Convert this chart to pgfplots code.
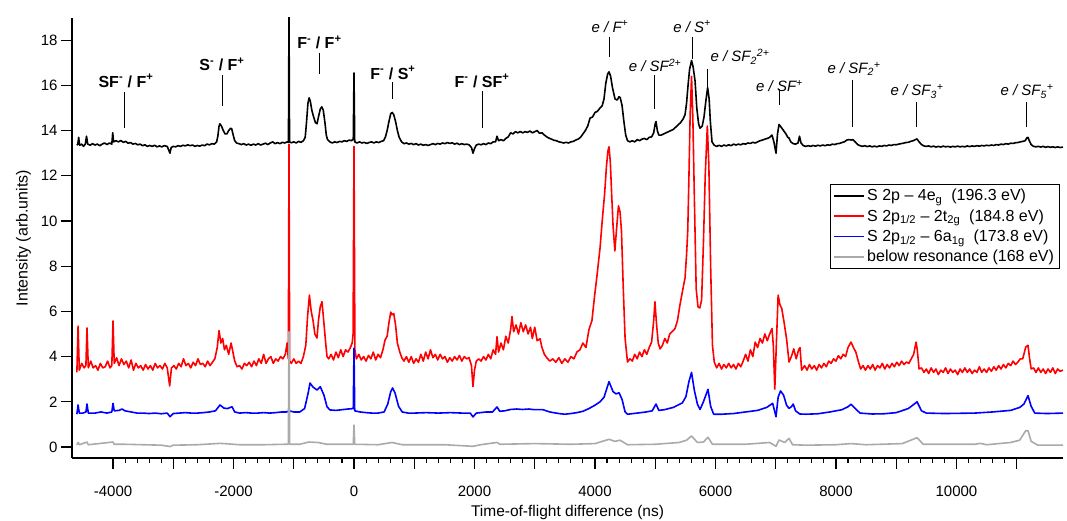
\documentclass[border=0pt]{standalone}
\usepackage{pgfplots}
\pgfplotsset{compat=1.18}
\usepackage{fontspec}
\setmainfont{Liberation Sans}
\definecolor{grayline}{RGB}{170,170,170}
\begin{document}
\begin{tikzpicture}
\begin{axis}[
  scale only axis, width=991pt, height=440pt,
  xmin=-4681, xmax=11769, ymin=-0.487, ymax=18.98,
  scaled x ticks=false, scaled y ticks=false,
  axis lines=left, axis line style={-, line width=1.1pt},
  tick align=outside, tick style={black, line width=1.1pt},
  major tick length=11pt, minor tick length=5pt,
  xtick={-4000,-3000,...,11000},
  xticklabels={-4000,,-2000,,0,,2000,,4000,,6000,,8000,,10000,},
  minor x tick num=4,
  ytick={0,2,...,18},
  yticklabels={0,2,4,6,8,10,12,14,16,18},
  tick label style={font=\fontsize{15}{18}\selectfont},
  xticklabel style={yshift=-13pt},
  xlabel={Time-of-flight difference (ns)},
  ylabel={Intensity (arb.units)},
  xlabel style={font=\fontsize{15.5}{18}\selectfont, yshift=-2pt},
  ylabel style={font=\fontsize{16}{19}\selectfont, yshift=3pt},
  clip mode=individual,
  legend cell align=left,
  legend image code/.code={\draw[#1] (0pt,0pt) -- (30pt,0pt);},
  legend style={at={(0.765,0.623)}, anchor=north west, draw=black, line width=1pt,
    font=\fontsize{16}{19}\selectfont, inner xsep=3pt, inner ysep=3pt, row sep=3.2pt},
  every axis plot/.append style={line join=round},
]
\addplot[black, line width=1.6pt] coordinates {
(-4600,13.35)(-4585,13.4)(-4570,13.7)(-4555,13.35)(-4520,13.4)(-4490,13.3)(-4460,13.4)(-4440,13.75)(-4420,13.4)(-4380,13.35)(-4340,13.42)(-4300,13.36)(-4260,13.4)(-4220,13.33)(-4180,13.4)(-4140,13.45)(-4100,13.38)(-4060,13.45)(-4020,13.4)(-4005,13.9)(-3990,13.5)(-3950,13.55)(-3910,13.5)(-3870,13.56)(-3830,13.48)(-3790,13.52)(-3750,13.44)(-3710,13.47)(-3670,13.4)(-3630,13.43)(-3590,13.37)(-3550,13.4)(-3510,13.33)(-3470,13.37)(-3430,13.3)(-3390,13.34)(-3350,13.3)(-3310,13.35)(-3270,13.28)(-3230,13.32)(-3190,13.28)(-3150,13.33)(-3100,13.3)(-3070,13.1)(-3055,13.0)(-3035,13.25)(-3000,13.3)(-2960,13.28)(-2920,13.33)(-2880,13.3)(-2840,13.35)(-2800,13.32)(-2760,13.37)(-2720,13.33)(-2680,13.36)(-2640,13.3)(-2600,13.34)(-2560,13.31)(-2520,13.36)(-2480,13.33)(-2440,13.4)(-2400,13.37)(-2360,13.42)(-2320,13.4)(-2280,13.5)(-2260,13.75)(-2240,14.2)(-2225,14.3)(-2200,14.2)(-2170,14.0)(-2140,13.85)(-2110,13.85)(-2080,14.0)(-2050,14.1)(-2030,14.08)(-2005,13.8)(-1980,13.55)(-1950,13.45)(-1910,13.42)(-1870,13.38)(-1830,13.42)(-1790,13.36)(-1750,13.4)(-1710,13.35)(-1670,13.4)(-1630,13.36)(-1590,13.42)(-1550,13.36)(-1510,13.4)(-1470,13.44)(-1430,13.38)(-1390,13.45)(-1350,13.5)(-1310,13.42)(-1270,13.47)(-1230,13.42)(-1190,13.48)(-1150,13.45)(-1110,13.5)(-1088,13.48)(-1079,19.5)(-1070,13.5)(-1040,13.46)(-1000,13.5)(-960,13.45)(-920,13.52)(-880,13.48)(-840,13.55)(-810,13.7)(-790,14.3)(-765,15.2)(-745,15.45)(-725,15.3)(-700,14.9)(-670,14.6)(-640,14.35)(-614,14.3)(-590,14.6)(-560,14.95)(-535,15.05)(-510,14.9)(-480,14.3)(-460,13.8)(-440,13.6)(-400,13.5)(-360,13.45)(-320,13.5)(-280,13.47)(-240,13.52)(-200,13.5)(-160,13.55)(-120,13.52)(-80,13.58)(-40,13.55)(-12,13.62)(0,16.55)(12,13.5)(50,13.45)(90,13.5)(130,13.45)(170,13.48)(210,13.43)(250,13.47)(290,13.5)(330,13.45)(370,13.5)(410,13.47)(450,13.52)(490,13.55)(520,13.7)(550,14.0)(580,14.4)(610,14.75)(635,14.8)(660,14.7)(690,14.4)(720,14.0)(750,13.7)(790,13.5)(830,13.42)(870,13.45)(910,13.4)(950,13.43)(990,13.38)(1030,13.42)(1070,13.36)(1110,13.4)(1150,13.35)(1190,13.38)(1230,13.34)(1270,13.38)(1310,13.42)(1350,13.38)(1390,13.43)(1430,13.4)(1470,13.45)(1510,13.42)(1550,13.47)(1590,13.43)(1630,13.46)(1670,13.4)(1710,13.44)(1750,13.38)(1790,13.42)(1830,13.38)(1870,13.4)(1910,13.37)(1950,13.25)(1975,13.0)(2000,13.2)(2030,13.36)(2070,13.4)(2110,13.37)(2150,13.42)(2190,13.38)(2230,13.45)(2270,13.42)(2310,13.5)(2350,13.5)(2374,13.75)(2400,13.55)(2440,13.6)(2480,13.55)(2520,13.65)(2560,13.72)(2600,13.9)(2640,13.85)(2680,13.95)(2720,13.9)(2760,13.96)(2800,13.9)(2840,13.95)(2880,13.92)(2920,13.98)(2960,13.9)(3000,13.95)(3040,14.0)(3080,13.88)(3120,13.9)(3160,13.8)(3200,13.72)(3240,13.66)(3280,13.62)(3320,13.57)(3360,13.55)(3400,13.5)(3440,13.48)(3480,13.45)(3520,13.48)(3560,13.45)(3600,13.5)(3640,13.52)(3680,13.58)(3720,13.62)(3760,13.7)(3800,13.85)(3840,14.0)(3880,14.2)(3918,14.55)(3960,14.6)(4000,14.8)(4040,14.85)(4084,15.0)(4120,15.1)(4150,15.4)(4180,16.1)(4210,16.5)(4233,16.6)(4260,16.4)(4290,15.9)(4333,15.4)(4370,15.35)(4400,15.5)(4420,15.45)(4450,15.1)(4480,14.4)(4510,13.8)(4540,13.55)(4580,13.5)(4620,13.55)(4660,13.5)(4700,13.6)(4740,13.55)(4780,13.62)(4820,13.65)(4860,13.6)(4900,13.7)(4940,13.72)(4975,13.9)(5000,14.3)(5013,14.4)(5035,14.0)(5060,13.8)(5100,13.8)(5140,13.85)(5180,13.9)(5220,13.95)(5260,14.0)(5300,14.05)(5340,14.15)(5380,14.25)(5420,14.35)(5460,14.5)(5495,14.7)(5520,15.2)(5545,16.0)(5570,16.7)(5603,17.1)(5630,16.8)(5661,16.2)(5690,15.0)(5720,14.3)(5744,14.1)(5780,14.2)(5810,14.6)(5840,15.3)(5870,15.9)(5895,15.4)(5915,14.4)(5943,13.5)(5980,13.35)(6020,13.3)(6060,13.35)(6100,13.3)(6140,13.36)(6180,13.32)(6220,13.37)(6260,13.33)(6300,13.4)(6340,13.36)(6380,13.4)(6420,13.37)(6460,13.42)(6500,13.4)(6540,13.45)(6580,13.43)(6620,13.48)(6660,13.45)(6700,13.5)(6740,13.55)(6780,13.58)(6820,13.62)(6860,13.65)(6900,13.7)(6939,13.8)(6970,13.5)(7005,13.0)(7030,13.85)(7055,14.27)(7090,14.15)(7130,14.0)(7170,13.85)(7200,13.7)(7221,13.67)(7250,13.5)(7290,13.42)(7330,13.4)(7370,13.45)(7395,13.75)(7420,13.45)(7460,13.33)(7500,13.3)(7540,13.33)(7580,13.3)(7620,13.34)(7660,13.31)(7700,13.35)(7740,13.32)(7780,13.36)(7820,13.33)(7860,13.37)(7900,13.35)(7940,13.4)(7980,13.38)(8020,13.42)(8060,13.43)(8100,13.47)(8140,13.5)(8180,13.58)(8220,13.6)(8250,13.58)(8280,13.6)(8320,13.5)(8360,13.38)(8400,13.33)(8440,13.3)(8480,13.33)(8520,13.29)(8560,13.32)(8600,13.28)(8640,13.31)(8680,13.28)(8720,13.32)(8760,13.3)(8800,13.34)(8840,13.32)(8880,13.36)(8920,13.34)(8960,13.38)(9000,13.37)(9040,13.4)(9080,13.42)(9120,13.44)(9160,13.47)(9200,13.48)(9240,13.52)(9280,13.55)(9320,13.6)(9346,13.63)(9380,13.5)(9420,13.38)(9460,13.32)(9500,13.3)(9540,13.32)(9580,13.28)(9620,13.31)(9660,13.27)(9700,13.3)(9740,13.27)(9780,13.31)(9820,13.28)(9860,13.3)(9900,13.27)(9940,13.3)(9980,13.28)(10020,13.31)(10060,13.28)(10100,13.3)(10140,13.28)(10180,13.32)(10220,13.29)(10260,13.32)(10300,13.3)(10340,13.33)(10380,13.31)(10420,13.34)(10460,13.32)(10500,13.35)(10540,13.33)(10580,13.36)(10620,13.34)(10660,13.38)(10700,13.36)(10740,13.4)(10780,13.38)(10820,13.42)(10860,13.4)(10900,13.44)(10940,13.43)(10980,13.46)(11020,13.47)(11060,13.5)(11100,13.52)(11140,13.55)(11170,13.68)(11188,13.7)(11210,13.55)(11240,13.38)(11280,13.3)(11320,13.28)(11360,13.3)(11400,13.27)(11440,13.3)(11480,13.26)(11520,13.29)(11560,13.26)(11600,13.28)(11640,13.25)(11680,13.28)(11720,13.25)(11769,13.27)
};
\addlegendentry{S 2p – 4e\textsubscript{g}\ \ (196.3 eV)}
\addplot[red, line width=1.6pt] coordinates {
(-4600,3.3)(-4580,5.35)(-4560,3.4)(-4520,3.7)(-4480,3.5)(-4450,3.6)(-4432,5.27)(-4410,3.5)(-4370,3.8)(-4330,3.5)(-4290,3.6)(-4250,3.4)(-4210,3.7)(-4170,3.5)(-4130,3.55)(-4090,3.8)(-4050,3.5)(-4020,3.6)(-4000,5.58)(-3980,3.7)(-3940,3.95)(-3900,3.6)(-3860,3.9)(-3820,3.65)(-3780,3.8)(-3740,3.5)(-3700,3.85)(-3660,3.4)(-3620,3.7)(-3580,3.5)(-3540,3.6)(-3500,3.4)(-3460,3.65)(-3420,3.45)(-3380,3.6)(-3340,3.4)(-3300,3.7)(-3260,3.5)(-3220,3.6)(-3180,3.45)(-3140,3.7)(-3100,3.5)(-3060,2.7)(-3030,3.5)(-2990,3.6)(-2950,3.45)(-2910,3.7)(-2870,3.55)(-2830,3.9)(-2790,3.6)(-2750,3.7)(-2710,3.5)(-2670,3.75)(-2630,3.6)(-2590,3.9)(-2550,3.65)(-2510,3.7)(-2470,3.55)(-2430,3.8)(-2390,3.6)(-2350,3.75)(-2310,3.9)(-2270,4.4)(-2240,5.15)(-2210,4.6)(-2180,4.8)(-2150,4.3)(-2120,4.5)(-2080,4.1)(-2040,4.6)(-2010,4.2)(-1980,3.8)(-1940,3.55)(-1900,3.6)(-1860,3.45)(-1820,3.7)(-1780,3.6)(-1740,3.75)(-1700,3.55)(-1660,3.8)(-1620,3.6)(-1580,3.9)(-1540,3.7)(-1500,4.1)(-1460,3.7)(-1420,3.9)(-1380,4.0)(-1340,3.7)(-1300,3.9)(-1260,3.8)(-1220,4.0)(-1180,3.9)(-1140,4.1)(-1110,4.6)(-1090,3.9)(-1079,13.4)(-1068,3.8)(-1040,3.7)(-1000,3.9)(-960,3.7)(-920,3.8)(-880,3.7)(-840,4.0)(-800,4.5)(-770,5.8)(-740,6.72)(-710,6.0)(-680,5.6)(-650,5.0)(-614,4.82)(-590,5.6)(-560,6.2)(-531,6.43)(-500,5.5)(-470,4.6)(-448,4.0)(-420,3.9)(-380,4.1)(-340,3.85)(-300,4.2)(-260,3.95)(-220,4.3)(-180,4.0)(-140,4.3)(-100,4.2)(-60,4.4)(-30,4.6)(-15,5.0)(0,13.3)(15,4.3)(40,3.9)(80,4.1)(120,3.85)(160,4.0)(200,3.8)(240,4.05)(280,3.9)(320,4.2)(360,3.85)(400,4.1)(440,3.95)(480,4.3)(515,4.73)(550,4.9)(580,5.5)(610,5.97)(631,5.85)(660,5.9)(690,5.4)(720,4.6)(760,4.2)(797,3.93)(830,3.8)(870,4.0)(910,3.75)(950,4.0)(990,3.7)(1030,3.9)(1070,3.75)(1110,4.1)(1150,3.8)(1190,4.2)(1230,3.9)(1270,4.3)(1310,3.95)(1350,4.1)(1390,3.85)(1430,4.1)(1470,3.9)(1510,4.0)(1550,3.75)(1590,3.95)(1630,3.8)(1670,4.0)(1710,3.85)(1750,4.05)(1790,3.8)(1830,4.0)(1870,3.9)(1910,3.95)(1950,3.6)(1975,2.67)(2000,3.4)(2030,3.8)(2070,3.9)(2110,3.8)(2150,4.0)(2190,3.85)(2230,4.1)(2270,3.9)(2310,4.3)(2350,4.1)(2374,4.88)(2400,4.2)(2440,4.6)(2480,4.3)(2520,4.9)(2560,4.6)(2600,5.2)(2623,5.77)(2650,5.1)(2690,5.4)(2730,5.0)(2770,5.5)(2810,5.1)(2850,5.4)(2890,5.0)(2930,5.3)(2960,4.8)(3000,5.3)(3040,4.7)(3088,4.79)(3120,4.4)(3160,4.1)(3200,3.95)(3250,3.8)(3300,3.9)(3350,3.75)(3400,3.95)(3450,3.7)(3500,3.9)(3550,3.75)(3600,4.0)(3650,3.9)(3700,4.2)(3750,4.3)(3800,4.6)(3850,4.4)(3900,5.2)(3950,5.6)(3990,6.6)(4030,7.5)(4084,8.8)(4120,10.0)(4160,11.2)(4190,12.4)(4215,13.1)(4233,13.28)(4255,12.6)(4280,11.0)(4300,9.8)(4330,8.67)(4360,9.7)(4390,10.67)(4416,10.4)(4440,9.56)(4470,7.0)(4500,4.8)(4540,3.76)(4580,3.9)(4620,3.8)(4660,4.1)(4700,3.9)(4740,4.2)(4780,4.0)(4820,4.3)(4860,4.1)(4900,4.4)(4940,4.64)(4975,5.6)(4995,6.43)(5020,5.5)(5050,4.6)(5080,4.34)(5120,4.5)(5160,4.8)(5200,4.6)(5240,5.0)(5280,5.1)(5329,5.24)(5370,5.6)(5410,6.28)(5460,7.0)(5495,7.48)(5520,8.5)(5540,9.56)(5560,12.0)(5580,14.7)(5603,16.4)(5625,14.5)(5650,11.0)(5680,7.0)(5710,6.2)(5740,6.15)(5770,6.5)(5800,9.0)(5830,12.0)(5865,14.2)(5890,12.5)(5920,8.0)(5950,4.5)(5980,3.76)(6020,3.5)(6060,3.7)(6100,3.45)(6140,3.65)(6180,3.5)(6220,3.7)(6260,3.5)(6300,3.65)(6340,3.45)(6380,3.7)(6420,3.55)(6460,3.8)(6500,4.1)(6540,3.8)(6580,4.3)(6620,4.0)(6660,4.64)(6700,4.4)(6740,4.8)(6780,4.6)(6820,5.0)(6860,4.7)(6900,5.0)(6939,5.24)(6960,4.5)(6985,2.56)(7010,4.5)(7040,6.72)(7070,6.3)(7100,6.13)(7140,5.5)(7180,4.79)(7221,3.76)(7260,4.0)(7300,4.34)(7340,3.9)(7380,4.3)(7404,4.4)(7430,3.4)(7480,3.6)(7520,3.4)(7560,3.65)(7600,3.45)(7640,3.6)(7680,3.4)(7720,3.65)(7760,3.5)(7800,3.7)(7840,3.55)(7880,3.8)(7920,3.7)(7960,3.9)(8000,3.8)(8040,4.04)(8080,3.9)(8120,4.1)(8160,4.0)(8200,4.4)(8250,4.64)(8290,4.4)(8330,4.2)(8370,3.8)(8410,3.45)(8450,3.6)(8490,3.4)(8530,3.6)(8570,3.45)(8610,3.65)(8650,3.4)(8690,3.6)(8730,3.5)(8770,3.7)(8810,3.45)(8850,3.65)(8890,3.5)(8930,3.7)(8970,3.55)(9010,3.75)(9050,3.6)(9090,3.8)(9130,3.65)(9170,3.76)(9210,3.7)(9250,3.9)(9290,4.1)(9330,4.64)(9350,4.3)(9380,3.45)(9420,3.5)(9460,3.3)(9500,3.45)(9540,3.25)(9580,3.5)(9620,3.3)(9660,3.45)(9700,3.2)(9740,3.4)(9780,3.3)(9820,3.5)(9860,3.25)(9900,3.45)(9940,3.3)(9980,3.4)(10020,3.2)(10060,3.45)(10100,3.3)(10140,3.5)(10180,3.3)(10220,3.45)(10260,3.25)(10300,3.4)(10340,3.3)(10380,3.55)(10420,3.3)(10460,3.45)(10500,3.3)(10540,3.5)(10580,3.35)(10620,3.55)(10660,3.4)(10700,3.6)(10740,3.45)(10780,3.65)(10820,3.5)(10860,3.7)(10900,3.6)(10940,3.8)(10980,3.65)(11020,3.76)(11060,3.9)(11100,3.9)(11150,4.42)(11188,4.5)(11210,4.0)(11240,3.45)(11280,3.5)(11320,3.3)(11360,3.5)(11400,3.3)(11440,3.45)(11480,3.25)(11520,3.45)(11560,3.3)(11600,3.5)(11640,3.25)(11680,3.45)(11720,3.35)(11769,3.4)
};
\addlegendentry{S 2p\textsubscript{1/2} – 2t\textsubscript{2g}\ \ (184.8 eV)}
\addplot[blue, line width=1.6pt] coordinates {
(-4600,1.45)(-4580,1.86)(-4560,1.5)(-4500,1.5)(-4450,1.55)(-4432,1.9)(-4410,1.5)(-4300,1.5)(-4200,1.55)(-4100,1.5)(-4020,1.55)(-4000,1.93)(-3980,1.6)(-3900,1.62)(-3850,1.68)(-3800,1.6)(-3700,1.55)(-3600,1.5)(-3500,1.5)(-3400,1.48)(-3300,1.5)(-3200,1.47)(-3100,1.5)(-3054,1.34)(-3000,1.48)(-2900,1.5)(-2800,1.52)(-2700,1.5)(-2600,1.5)(-2500,1.52)(-2400,1.55)(-2300,1.6)(-2224,1.86)(-2160,1.72)(-2100,1.7)(-2025,1.78)(-1980,1.55)(-1900,1.5)(-1800,1.52)(-1700,1.5)(-1600,1.5)(-1500,1.52)(-1400,1.5)(-1300,1.52)(-1200,1.55)(-1120,1.55)(-1079,1.6)(-1000,1.55)(-900,1.55)(-820,1.7)(-760,2.4)(-730,2.83)(-680,2.65)(-614,2.52)(-560,2.67)(-500,2.3)(-448,1.78)(-400,1.64)(-300,1.62)(-200,1.65)(-100,1.68)(-12,1.7)(0,4.37)(12,1.6)(100,1.55)(200,1.52)(300,1.5)(400,1.5)(500,1.55)(560,1.9)(610,2.45)(640,2.61)(680,2.4)(740,1.8)(800,1.55)(900,1.5)(1000,1.5)(1200,1.52)(1400,1.5)(1600,1.52)(1800,1.5)(1930,1.5)(1975,1.33)(2030,1.5)(2200,1.55)(2300,1.55)(2374,1.77)(2420,1.58)(2500,1.6)(2600,1.66)(2700,1.68)(2800,1.66)(2900,1.68)(3000,1.65)(3137,1.65)(3250,1.55)(3400,1.48)(3500,1.45)(3600,1.48)(3700,1.52)(3800,1.58)(3900,1.7)(4000,1.85)(4084,2.0)(4150,2.2)(4233,2.89)(4300,2.45)(4350,2.35)(4400,2.4)(4450,2.1)(4500,1.55)(4540,1.45)(4700,1.5)(4850,1.55)(4950,1.6)(5013,1.9)(5060,1.62)(5150,1.65)(5300,1.75)(5450,1.95)(5510,2.23)(5560,2.9)(5603,3.3)(5650,2.5)(5700,1.9)(5744,1.66)(5800,2.0)(5876,2.55)(5920,1.8)(5970,1.45)(6100,1.45)(6300,1.48)(6500,1.55)(6700,1.62)(6850,1.75)(6950,1.93)(7005,1.34)(7040,2.2)(7080,2.48)(7130,2.3)(7180,1.85)(7221,1.71)(7260,1.78)(7290,1.9)(7330,1.6)(7400,1.46)(7500,1.45)(7700,1.47)(7900,1.55)(8100,1.65)(8200,1.78)(8250,1.89)(8320,1.7)(8400,1.5)(8600,1.46)(8800,1.47)(9000,1.52)(9200,1.7)(9300,1.9)(9346,2.0)(9420,1.6)(9500,1.5)(9800,1.48)(10300,1.5)(10600,1.55)(10900,1.62)(11050,1.75)(11120,1.9)(11188,2.27)(11240,1.8)(11300,1.5)(11500,1.48)(11769,1.5)
};
\addlegendentry{S 2p\textsubscript{1/2} – 6a\textsubscript{1g}\ \ (173.8 eV)}
\addplot[grayline, line width=1.6pt] coordinates {
(-4600,0.1)(-4580,0.2)(-4560,0.1)(-4432,0.22)(-4410,0.1)(-4000,0.22)(-3980,0.12)(-3800,0.12)(-3500,0.1)(-3200,0.08)(-3054,0.02)(-3000,0.08)(-2600,0.1)(-2224,0.16)(-2100,0.14)(-1900,0.1)(-1500,0.1)(-1150,0.12)(-1090,0.12)(-1079,5.1)(-1068,0.12)(-900,0.12)(-750,0.22)(-600,0.2)(-450,0.12)(-100,0.12)(-12,0.12)(0,0.97)(12,0.12)(400,0.1)(631,0.2)(800,0.1)(1500,0.1)(1975,0.03)(2100,0.1)(2374,0.2)(2420,0.12)(3000,0.15)(3600,0.12)(4000,0.15)(4233,0.34)(4330,0.25)(4416,0.3)(4540,0.1)(5000,0.12)(5400,0.2)(5520,0.3)(5603,0.49)(5700,0.2)(5800,0.22)(5876,0.43)(5950,0.12)(6500,0.12)(6900,0.2)(7005,0.03)(7055,0.31)(7150,0.2)(7221,0.38)(7280,0.1)(7500,0.08)(8000,0.1)(8250,0.15)(8500,0.1)(9100,0.15)(9346,0.41)(9450,0.12)(10300,0.12)(10400,0.16)(10500,0.1)(10900,0.2)(11050,0.3)(11150,0.72)(11188,0.72)(11240,0.25)(11350,0.08)(11769,0.08)
};
\addlegendentry{below resonance (168 eV)}
% annotation lines
\draw[line width=0.8pt] (axis cs:-3818,15.71) -- (axis cs:-3818,14.12);
\draw[line width=0.8pt] (axis cs:-2191,16.46) -- (axis cs:-2191,15.09);
\draw[line width=0.8pt] (axis cs:-581,17.43) -- (axis cs:-581,16.50);
\draw[line width=0.8pt] (axis cs:631,16.15) -- (axis cs:631,15.40);
\draw[line width=0.8pt] (axis cs:2125,15.75) -- (axis cs:2125,14.12);
\draw[line width=0.8pt] (axis cs:4233,18.14) -- (axis cs:4233,17.26);
\draw[line width=0.8pt] (axis cs:4980,16.46) -- (axis cs:4980,14.96);
\draw[line width=0.8pt] (axis cs:5611,18.14) -- (axis cs:5611,17.17);
\draw[line width=0.8pt] (axis cs:5860,16.73) -- (axis cs:5860,15.88);
\draw[line width=0.8pt] (axis cs:7055,15.84) -- (axis cs:7055,15.13);
\draw[line width=0.8pt] (axis cs:8267,16.24) -- (axis cs:8267,14.16);
\draw[line width=0.8pt] (axis cs:9329,15.27) -- (axis cs:9329,14.16);
\draw[line width=0.8pt] (axis cs:11155,15.27) -- (axis cs:11155,14.16);
% annotation texts
\begin{scope}[every node/.style={font=\fontsize{15}{18}\selectfont, anchor=base, inner sep=0pt}]
\node[font=\fontsize{16}{19}\selectfont\bfseries] at (axis cs:-3785,15.92) {SF\textsuperscript{-} / F\textsuperscript{+}};
\node[font=\fontsize{16}{19}\selectfont\bfseries] at (axis cs:-2191,16.65) {S\textsuperscript{-} / F\textsuperscript{+}};
\node[font=\fontsize{16}{19}\selectfont\bfseries] at (axis cs:-573,17.64) {F\textsuperscript{-} / F\textsuperscript{+}};
\node[font=\fontsize{16}{19}\selectfont\bfseries] at (axis cs:647,16.28) {F\textsuperscript{-} / S\textsuperscript{+}};
\node[font=\fontsize{16}{19}\selectfont\bfseries] at (axis cs:2125,15.92) {F\textsuperscript{-} / SF\textsuperscript{+}};
\node at (axis cs:4250,18.36) {\itshape e / F\textsuperscript{+}};
\node at (axis cs:4997,16.62) {\itshape e / SF\textsuperscript{2+}};
\node at (axis cs:5611,18.36) {\itshape e / S\textsuperscript{+}};
\node at (axis cs:6408,17.04) {\itshape e / SF\textsubscript{2}\textsuperscript{2+}};
\node at (axis cs:7063,15.73) {\itshape e / SF\textsuperscript{+}};
\node at (axis cs:8300,16.53) {\itshape e / SF\textsubscript{2}\textsuperscript{+}};
\node at (axis cs:9346,15.53) {\itshape e / SF\textsubscript{3}\textsuperscript{+}};
\node at (axis cs:11172,15.53) {\itshape e / SF\textsubscript{5}\textsuperscript{+}};
\end{scope}
\end{axis}
\pgfresetboundingbox
\path[use as bounding box] ([shift={(-72pt,-63pt)}]current axis.south west) rectangle ([shift={(4pt,18pt)}]current axis.north east);
\end{tikzpicture}
\end{document}
